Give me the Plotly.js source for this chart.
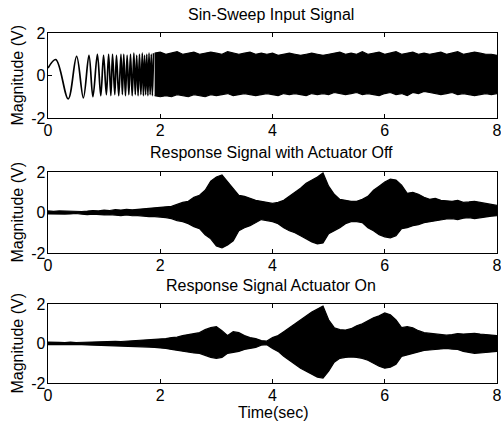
<!DOCTYPE html>
<html><head><meta charset="utf-8">
<script src="https://cdn.plot.ly/plotly-3.0.1.min.js"></script>
<style>html,body{margin:0;padding:0;background:#fff}</style>
</head><body><div id="chart" style="width:501px;height:423px"></div>
<script>
const xTicks = [0, 2, 4, 6, 8];
const yTicks = [-2, 0, 2];
const panelTitles = ["Sin-Sweep Input Signal", "Response Signal with Actuator Off", "Response Signal Actuator On"];
const yTitle = "Magnitude (V)";
const xTitle = "Time(sec)";

// early part of the sine sweep: successive peaks / troughs (s, V)
const sweepT = [0, 0.14, 0.36, 0.51, 0.63, 0.73, 0.80, 0.88, 0.94, 0.99, 1.04, 1.08, 1.12, 1.15, 1.19, 1.22, 1.26, 1.30, 1.325, 1.35, 1.38, 1.41, 1.44, 1.47, 1.50, 1.53, 1.555, 1.58, 1.605, 1.63, 1.655, 1.68, 1.70, 1.72, 1.74, 1.76, 1.78, 1.80, 1.82, 1.84, 1.86, 1.88];
const sweepV = [0.35, 0.75, -1.1, 0.9, -1.05, 0.95, -1.0, 1.0, -0.95, 0.95, -0.9, 1.0, -0.95, 1.0, -0.9, 0.95, -0.95, 1.0, -0.9, 1.0, -0.95, 0.95, -0.9, 1.0, -0.95, 1.05, -0.9, 0.95, -0.95, 1.0, -0.9, 1.05, -0.95, 0.95, -0.9, 1.0, -0.95, 1.05, -0.9, 1.0, -0.95, 1.05];

// time grid for envelopes (s)
const gridT = [0.0,0.1,0.2,0.3,0.4,0.5,0.6,0.7,0.8,0.9,1.0,1.1,1.2,1.3,1.4,1.5,1.6,1.7,1.8,1.9,2.0,2.1,2.2,2.3,2.4,2.5,2.6,2.7,2.8,2.9,3.0,3.1,3.2,3.3,3.4,3.5,3.6,3.7,3.8,3.9,4.0,4.1,4.2,4.3,4.4,4.5,4.6,4.7,4.8,4.9,5.0,5.1,5.2,5.3,5.4,5.5,5.6,5.7,5.8,5.9,6.0,6.1,6.2,6.3,6.4,6.5,6.6,6.7,6.8,6.9,7.0,7.1,7.2,7.3,7.4,7.5,7.6,7.7,7.8,7.9,8.0];

// input signal dense part envelope, t = 1.9 .. 8.0
const inputUpper = [1.05,1.1,1.0,1.05,1.12,1.0,1.05,1.1,1.0,1.05,
  1.1,1.05,1.0,1.12,1.05,1.0,1.05,1.1,1.0,1.05,
  1.0,1.05,0.95,1.0,1.05,1.0,0.95,1.0,1.05,1.0,
  0.95,1.0,1.05,1.1,1.0,1.05,1.0,1.12,1.0,1.05,
  1.1,1.0,1.05,1.12,1.0,1.05,1.1,1.0,1.05,1.0,
  1.05,1.1,1.0,1.05,1.12,1.0,1.05,1.1,1.05,1.0,
  1.0,0.95];
const inputLower = [-0.95,-1.0,-0.95,-1.0,-0.9,-0.95,-1.0,-0.9,-0.95,-1.0,
  -0.9,-0.95,-0.9,-0.85,-0.95,-0.9,-0.85,-0.9,-0.95,-0.9,
  -0.85,-0.9,-0.95,-0.85,-0.9,-0.85,-0.9,-0.95,-0.85,-0.9,
  -0.85,-0.9,-0.8,-0.85,-0.9,-0.85,-0.8,-0.9,-0.85,-0.9,
  -0.95,-0.85,-0.8,-0.9,-0.85,-0.95,-0.8,-0.85,-0.75,-0.8,
  -0.85,-0.9,-0.85,-0.8,-0.9,-0.85,-0.9,-0.95,-0.9,-0.85,
  -0.9,-0.85];

// response with actuator off, envelope t = 0 .. 8
const offUpper = [0.08,0.06,0.08,0.07,0.06,0.08,0.05,0.07,0.1,0.08,
  0.12,0.1,0.14,0.12,0.15,0.13,0.16,0.18,0.2,0.22,
  0.25,0.28,0.3,0.42,0.5,0.55,0.75,0.85,1.1,1.55,
  1.75,1.85,1.5,1.2,0.85,0.8,0.7,0.6,0.55,0.5,
  0.45,0.5,0.6,0.8,1.0,1.2,1.45,1.6,1.75,1.95,
  1.3,0.9,0.65,0.6,0.55,0.55,0.65,0.8,1.1,1.3,
  1.5,1.65,1.6,1.35,0.95,1.0,0.9,0.75,0.65,0.7,
  0.6,0.58,0.55,0.6,0.5,0.52,0.55,0.5,0.45,0.4,
  0.35];
const offLower = [-0.07,-0.08,-0.06,-0.08,-0.07,-0.05,-0.08,-0.1,-0.08,-0.1,
  -0.12,-0.1,-0.13,-0.15,-0.12,-0.16,-0.15,-0.18,-0.2,-0.2,
  -0.22,-0.25,-0.3,-0.4,-0.45,-0.55,-0.7,-0.8,-1.1,-1.3,
  -1.65,-1.75,-1.6,-1.4,-0.9,-0.75,-0.65,-0.5,-0.35,-0.4,
  -0.45,-0.55,-0.75,-0.9,-1.0,-1.15,-1.3,-1.45,-1.55,-1.5,
  -1.05,-0.9,-0.75,-0.55,-0.45,-0.45,-0.5,-0.75,-0.9,-1.1,
  -1.2,-1.25,-1.15,-0.8,-0.75,-0.65,-0.6,-0.5,-0.45,-0.4,
  -0.35,-0.32,-0.3,-0.35,-0.28,-0.25,-0.3,-0.25,-0.2,-0.18,
  -0.16];

// response with actuator on, envelope t = 0 .. 8
const onUpper = [0.07,0.05,0.06,0.05,0.07,0.05,0.06,0.08,0.07,0.08,
  0.1,0.09,0.11,0.1,0.12,0.11,0.13,0.15,0.17,0.2,
  0.22,0.25,0.3,0.32,0.4,0.45,0.48,0.55,0.7,0.8,
  0.85,0.65,0.4,0.6,0.55,0.4,0.3,0.25,0.15,0.12,
  0.3,0.4,0.6,0.8,1.0,1.2,1.4,1.6,1.75,1.9,
  1.2,0.8,0.7,0.68,0.75,0.9,1.0,1.15,1.3,1.4,
  1.55,1.45,1.2,0.8,0.85,0.8,0.65,0.55,0.52,0.5,
  0.45,0.42,0.45,0.5,0.48,0.5,0.52,0.48,0.45,0.45,
  0.4];
const onLower = [-0.06,-0.07,-0.05,-0.06,-0.05,-0.07,-0.06,-0.07,-0.08,-0.07,
  -0.09,-0.1,-0.1,-0.12,-0.11,-0.13,-0.14,-0.15,-0.18,-0.2,
  -0.22,-0.25,-0.3,-0.35,-0.38,-0.42,-0.48,-0.5,-0.6,-0.7,
  -0.75,-0.7,-0.5,-0.45,-0.4,-0.3,-0.25,-0.2,-0.08,-0.06,
  -0.25,-0.4,-0.65,-0.85,-1.05,-1.25,-1.4,-1.55,-1.7,-1.75,
  -1.4,-0.95,-0.75,-0.7,-0.68,-0.7,-0.75,-0.85,-1.0,-1.15,
  -1.25,-1.2,-1.05,-0.65,-0.58,-0.5,-0.45,-0.35,-0.33,-0.3,
  -0.28,-0.25,-0.28,-0.3,-0.4,-0.45,-0.5,-0.48,-0.45,-0.42,
  -0.4];

const FONT = "Liberation Sans, Arial, Helvetica, sans-serif";
const FS = 16;
const inkLine = {color: "#000", width: 1.2};

function band(t, lo, hi, xa, ya) {
  return [
    {x: t, y: lo, xaxis: xa, yaxis: ya, type: "scatter", mode: "lines", line: inkLine, hoverinfo: "skip", showlegend: false},
    {x: t, y: hi, xaxis: xa, yaxis: ya, type: "scatter", mode: "lines", line: inkLine, fill: "tonexty", fillcolor: "#000", hoverinfo: "skip", showlegend: false}
  ];
}

const denseT = gridT.slice(19);
const data = [
  {x: sweepT, y: sweepV, xaxis: "x", yaxis: "y", type: "scatter", mode: "lines", line: {color: "#000", width: 1.7, shape: "spline", smoothing: 1.0}, hoverinfo: "skip", showlegend: false},
  ...band(denseT, inputLower, inputUpper, "x", "y"),
  ...band(gridT, offLower, offUpper, "x2", "y2"),
  ...band(gridT, onLower, onUpper, "x3", "y3")
];

const W = 501, H = 423;
const xDom = [48 / W, 497 / W];
const yDoms = [[1 - 118 / H, 1 - 33 / H], [1 - 253 / H, 1 - 172 / H], [1 - 383 / H, 1 - 304 / H]];

function xAxis(i) {
  return {domain: xDom, range: [0, 8], tickvals: xTicks, ticktext: xTicks.map(String),
    ticks: "inside", ticklen: 4, tickcolor: "#000", showline: true, linecolor: "#000", linewidth: 1.3,
    mirror: "ticks", showgrid: false, zeroline: false, anchor: "y" + (i === 1 ? "" : i),
    tickfont: {family: FONT, size: FS, color: "#000"}, fixedrange: true, ticklabelstandoff: -3,
    ticklabeloverflow: "allow"};
}
function yAxis(i) {
  return {domain: yDoms[i - 1], range: [-2, 2], tickvals: yTicks, ticktext: yTicks.map(String),
    ticks: "inside", ticklen: 4, tickcolor: "#000", showline: true, linecolor: "#000", linewidth: 1.3,
    mirror: "ticks", showgrid: false, zeroline: false, anchor: "x" + (i === 1 ? "" : i),
    tickfont: {family: FONT, size: FS, color: "#000"}, fixedrange: true, ticklabelstandoff: -2,
    ticklabeloverflow: "allow"};
}

const titleY = [14, 152, 285];
const annotations = [];
panelTitles.forEach((txt, i) => {
  annotations.push({text: txt, xref: "paper", yref: "paper", x: 271 / W, y: 1 - titleY[i] / H,
    xanchor: "center", yanchor: "middle", showarrow: false, font: {family: FONT, size: FS, color: "#000"}});
  const d = yDoms[i];
  annotations.push({text: yTitle, xref: "paper", yref: "paper", x: 17 / W, y: (d[0] + d[1]) / 2,
    xanchor: "center", yanchor: "middle", textangle: -90, showarrow: false, font: {family: FONT, size: FS, color: "#000"}});
});
annotations.push({text: xTitle, xref: "paper", yref: "paper", x: 273 / W, y: 1 - 412 / H,
  xanchor: "center", yanchor: "middle", showarrow: false, font: {family: FONT, size: FS, color: "#000"}});

const layout = {
  width: W, height: H, margin: {l: 0, r: 0, t: 0, b: 0},
  paper_bgcolor: "#fff", plot_bgcolor: "#fff", showlegend: false,
  font: {family: FONT, size: FS, color: "#000"},
  xaxis: xAxis(1), yaxis: yAxis(1),
  xaxis2: xAxis(2), yaxis2: yAxis(2),
  xaxis3: xAxis(3), yaxis3: yAxis(3),
  annotations: annotations
};

Plotly.newPlot("chart", data, layout, {displayModeBar: false, staticPlot: true});
</script></body></html>
